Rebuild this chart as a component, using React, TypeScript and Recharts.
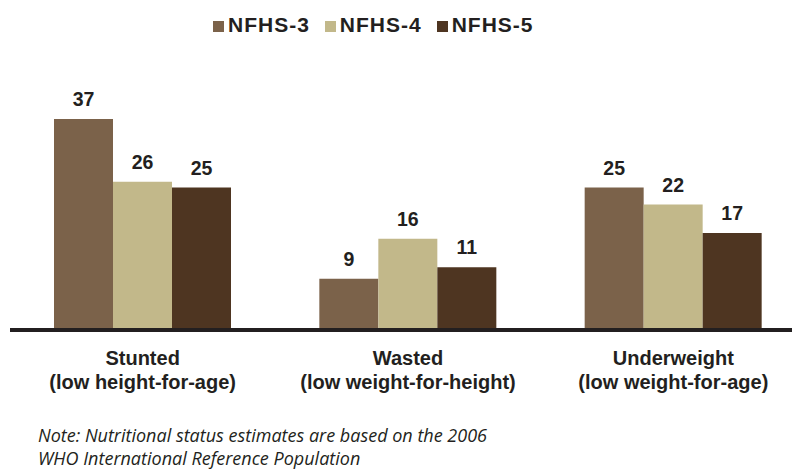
import React from 'react';
import { BarChart, Bar, XAxis, YAxis, Legend, LabelList } from 'recharts';

const categories = ['Stunted', 'Wasted', 'Underweight'];
const subLabels = ['(low height-for-age)', '(low weight-for-height)', '(low weight-for-age)'];
const nfhs3 = [37, 9, 25];
const nfhs4 = [26, 16, 22];
const nfhs5 = [25, 11, 17];
const seriesNames = ['NFHS-3', 'NFHS-4', 'NFHS-5'];
const seriesKeys = ['nfhs3', 'nfhs4', 'nfhs5'];
const seriesColors = ['#7B624A', '#C2B88A', '#4E3521'];
const noteLines = [
  'Note: Nutritional status estimates are based on the 2006',
  'WHO International Reference Population',
];

const data = categories.map((c, i) => ({
  name: c,
  nfhs3: nfhs3[i],
  nfhs4: nfhs4[i],
  nfhs5: nfhs5[i],
}));

const FONT = '"Liberation Sans", Arial, Helvetica, sans-serif';
const INK = '#231f20';

const CategoryTick = (props: any) => {
  const { x, y, payload } = props;
  const idx = categories.indexOf(payload.value);
  return (
    <g>
      <text x={x} y={y + 35} textAnchor="middle" fontFamily={FONT} fontWeight="bold" fontSize={20} fill={INK}>
        {payload.value}
      </text>
      <text x={x} y={y + 59} textAnchor="middle" fontFamily={FONT} fontWeight="bold" fontSize={20} fill={INK}>
        {subLabels[idx]}
      </text>
    </g>
  );
};

const LegendContent = () => (
  <div style={{ display: 'flex', alignItems: 'flex-start', fontFamily: FONT }}>
    {seriesNames.map((n, i) => (
      <div key={n} style={{ display: 'flex', alignItems: 'flex-start', marginRight: 15 }}>
        <div style={{ width: 11, height: 11, background: seriesColors[i], marginTop: 7, marginRight: 4 }} />
        <span style={{ fontSize: 21, lineHeight: '21px', fontWeight: 'bold', color: INK, letterSpacing: 1 }}>{n}</span>
      </div>
    ))}
  </div>
);

export default function App() {
  return (
    <div style={{ position: 'absolute', left: 0, top: 0, width: 792, height: 472, overflow: 'hidden', background: '#fff' }}>
      <BarChart
        width={792}
        height={472}
        data={data}
        margin={{ top: 102, right: -14, bottom: 82, left: 10 }}
        barCategoryGap={44}
        barGap={0}
      >
        <XAxis
          dataKey="name"
          axisLine={{ stroke: INK, strokeWidth: 4 }}
          tickLine={false}
          tickSize={0}
          tickMargin={0}
          height={60}
          interval={0}
          tick={<CategoryTick />}
        />
        <YAxis hide domain={[0, 40]} />
        <Legend
          layout="horizontal"
          verticalAlign="middle"
          align="center"
          wrapperStyle={{ top: 14, left: 213, width: 400 }}
          content={<LegendContent />}
        />
        {seriesKeys.map((k, i) => (
          <Bar key={k} dataKey={k} name={seriesNames[i]} fill={seriesColors[i]} isAnimationActive={false}>
            <LabelList
              dataKey={k}
              position="top"
              offset={13}
              fill={INK}
              fontFamily={FONT}
              fontWeight="bold"
              fontSize={19.5}
            />
          </Bar>
        ))}
      </BarChart>
      <div
        style={{
          position: 'absolute',
          left: 38,
          top: 424,
          fontFamily: '"Open Sans", sans-serif',
          fontStyle: 'italic',
          fontSize: 18,
          lineHeight: '23px',
          color: INK,
          whiteSpace: 'nowrap',
        }}
      >
        {noteLines.map((l) => (
          <div key={l}>{l}</div>
        ))}
      </div>
    </div>
  );
}
